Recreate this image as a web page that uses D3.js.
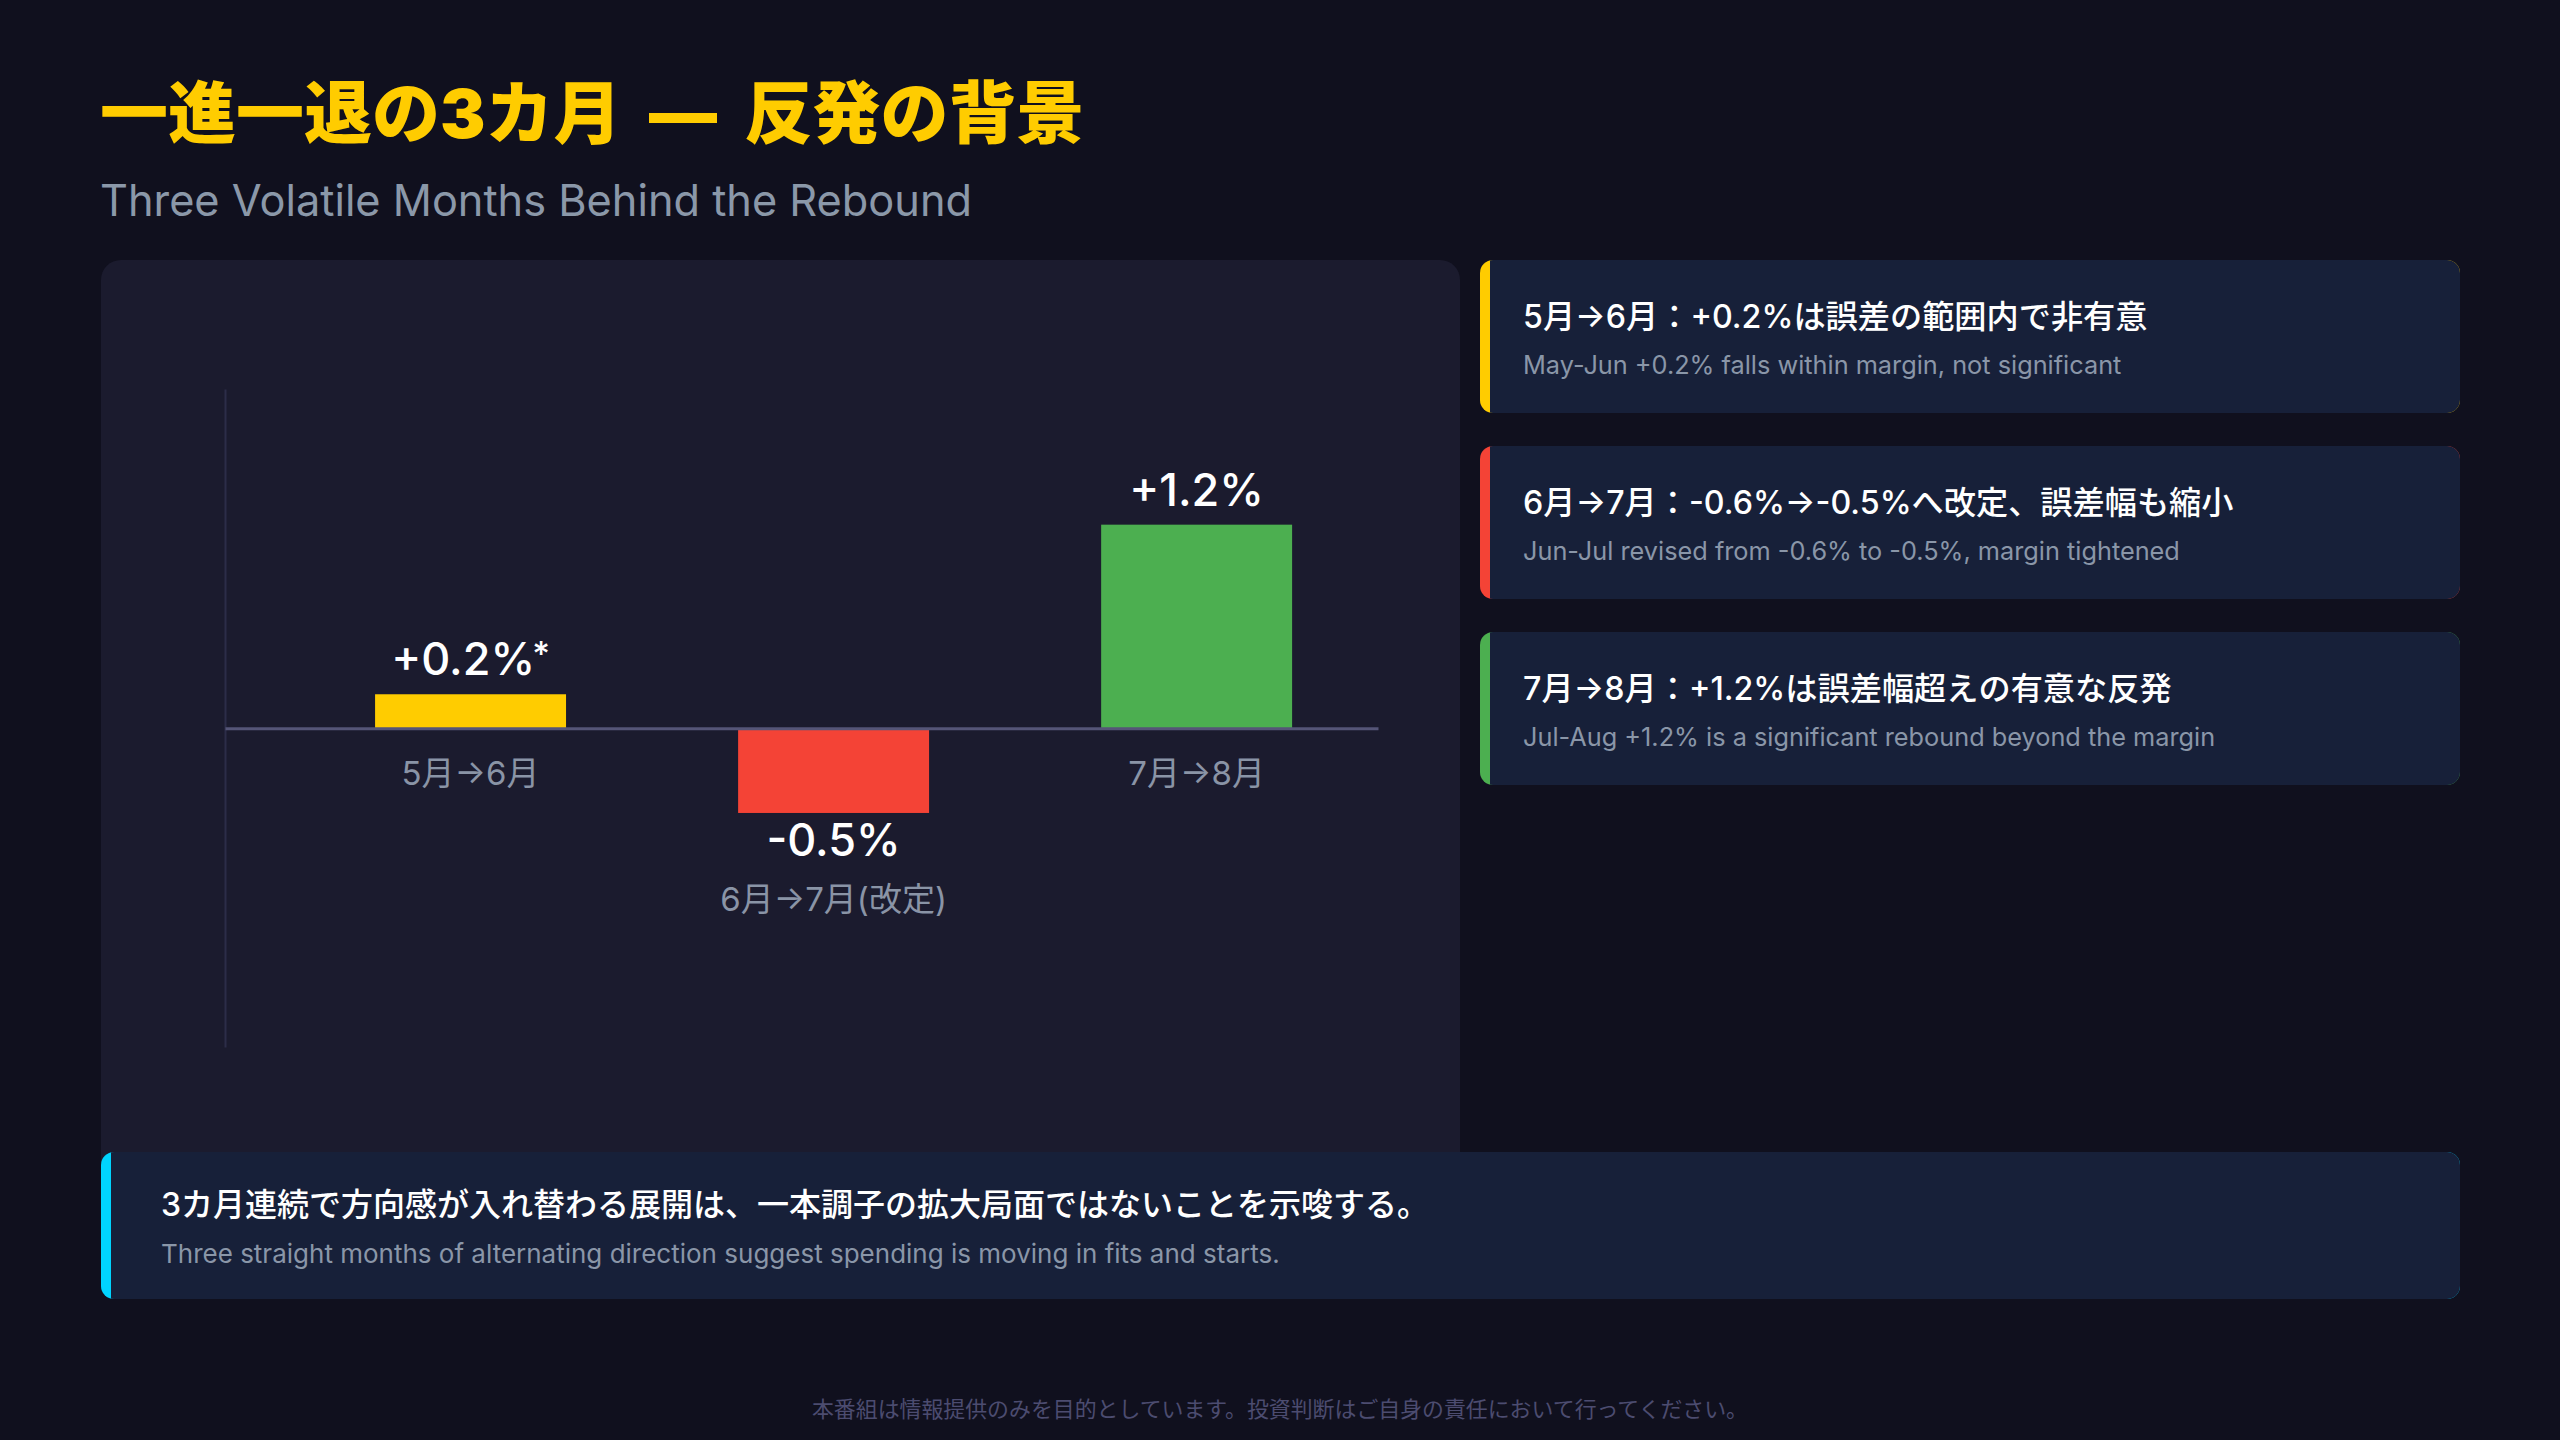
<!DOCTYPE html>
<html>
<head>
<meta charset="utf-8">
<script src="https://cdn.jsdelivr.net/npm/d3@7"></script>
<style>
  html, body { margin: 0; padding: 0; background: #10101e; }
  svg { display: block; }
  text { font-family: Inter, "Noto Sans CJK JP", sans-serif; }
</style>
</head>
<body>
<div class="chart"></div>
<script>
// chart values
const categories = ["5月→6月", "6月→7月(改定)", "7月→8月"]
const values = [0.2, -0.5, 1.2]
const valueLabels = ["+0.2%", "-0.5%", "+1.2%"]
const valueMarks = ["*", "", ""]

// side notes
const noteTitles = [
  "5月→6月：+0.2%は誤差の範囲内で非有意",
  "6月→7月：-0.6%→-0.5%へ改定、誤差幅も縮小",
  "7月→8月：+1.2%は誤差幅超えの有意な反発"
]
const noteSubs = [
  "May-Jun +0.2% falls within margin, not significant",
  "Jun-Jul revised from -0.6% to -0.5%, margin tightened",
  "Jul-Aug +1.2% is a significant rebound beyond the margin"
]

const title = "一進一退の3カ月 — 反発の背景"
const subtitle = "Three Volatile Months Behind the Rebound"
const takeaway = "3カ月連続で方向感が入れ替わる展開は、一本調子の拡大局面ではないことを示唆する。"
const takeawaySub = "Three straight months of alternating direction suggest spending is moving in fits and starts."
const footer = "本番組は情報提供のみを目的としています。投資判断はご自身の責任において行ってください。"

const W = 2560, H = 1440

const svg = d3.select(".chart")
    .append("svg")
    .attr("width", W)
    .attr("height", H)

svg.append("rect").attr("width", W).attr("height", H).attr("fill", "#10101e")

const colorScale = d3.scaleOrdinal()
    .domain(categories)
    .range(["#ffcc00", "#f44336", "#4caf50"])

// headings
svg.append("text")
    .attr("x", 100).attr("y", 138)
    .attr("font-size", 68).attr("font-weight", 900)
    .attr("word-spacing", 14)
    .attr("fill", "#ffcc00")
    .text(title)

svg.append("text")
    .attr("x", 100).attr("y", 216)
    .attr("font-size", 43.3)
    .attr("fill", "#8b98a9")
    .text(subtitle)

// chart panel
svg.append("rect")
    .attr("x", 101).attr("y", 260)
    .attr("width", 1359).attr("height", 940)
    .attr("rx", 20)
    .attr("fill", "#1b1b2e")

let yScale = d3.scaleLinear()
    .domain([-1.88, 2.0])
    .range([1047, 389])
let xScale = d3.scaleBand()
    .domain(categories)
    .range([225, 1378])
    .paddingInner(0.474)
    .paddingOuter(0.325)
    .align(0.636)

// y axis: line only
let yAxisGroup = svg.append("g")
    .attr("transform", "translate(225,0)")
    .call(d3.axisLeft(yScale).ticks(0).tickSizeOuter(0))
yAxisGroup.select(".domain").attr("stroke", "#2c2d48").attr("stroke-width", 2)

let group = svg.append("g")

group.selectAll(".bar")
    .data(values)
    .enter()
    .append("rect")
    .attr("class", "bar")
    .attr("x", (d, i) => xScale(categories[i]))
    .attr("width", xScale.bandwidth())
    .attr("y", d => yScale(Math.max(0, d)))
    .attr("height", d => Math.abs(yScale(d) - yScale(0)))
    .attr("fill", (d, i) => colorScale(categories[i]))

// zero line
let xAxisGroup = svg.append("g")
    .attr("transform", `translate(0,${yScale(0)})`)
    .call(d3.axisBottom(xScale).tickSize(0).tickFormat("").tickSizeOuter(0))
xAxisGroup.select(".domain").attr("stroke", "#555577").attr("stroke-width", 3)

// value labels
let vals = group.selectAll(".val")
    .data(values)
    .enter()
    .append("text")
    .attr("class", "val")
    .attr("x", (d, i) => xScale(categories[i]) + xScale.bandwidth() / 2)
    .attr("y", d => d >= 0 ? yScale(d) - 19 : yScale(d) + 43)
    .attr("text-anchor", "middle")
    .attr("font-size", 45)
    .attr("font-weight", 500)
    .attr("fill", "#ffffff")
vals.append("tspan").text((d, i) => valueLabels[i])
vals.append("tspan")
    .attr("font-size", 34)
    .attr("dx", -3)
    .attr("dy", -9)
    .text((d, i) => valueMarks[i])

// category labels
group.selectAll(".cat")
    .data(values)
    .enter()
    .append("text")
    .attr("class", "cat")
    .attr("x", (d, i) => xScale(categories[i]) + xScale.bandwidth() / 2)
    .attr("y", d => d >= 0 ? yScale(0) + 57 : yScale(d) + 98)
    .attr("text-anchor", "middle")
    .attr("font-size", 33)
    .attr("fill", "#8a94a6")
    .text((d, i) => categories[i])

// side cards
const defs = svg.append("defs")
function card(x, y, w, h, accent, id) {
    defs.append("clipPath").attr("id", id)
        .append("rect").attr("x", x).attr("y", y).attr("width", w).attr("height", h).attr("rx", 13)
    const g = svg.append("g").attr("clip-path", `url(#${id})`)
    g.append("rect").attr("x", x).attr("y", y).attr("width", w).attr("height", h).attr("fill", accent)
    g.append("rect").attr("x", x + 10).attr("y", y).attr("width", w - 10).attr("height", h).attr("fill", "#172039")
    return g
}

noteTitles.forEach((t, i) => {
    const top = 260 + i * 186
    card(1480, top, 980, 153, colorScale(categories[i]), "card" + i)
    svg.append("text")
        .attr("x", 1523).attr("y", top + 68)
        .attr("font-size", 32.2).attr("font-weight", 500)
        .attr("fill", "#ffffff")
        .text(t)
    svg.append("text")
        .attr("x", 1523).attr("y", top + 114)
        .attr("font-size", 25.3)
        .attr("fill", "#8a96a8")
        .text(noteSubs[i])
})

// takeaway box
card(101, 1152, 2359, 147, "#00d4ff", "takeaway")
svg.append("text")
    .attr("x", 161).attr("y", 1216)
    .attr("font-size", 32).attr("font-weight", 500)
    .attr("fill", "#ffffff")
    .text(takeaway)
svg.append("text")
    .attr("x", 161).attr("y", 1263)
    .attr("font-size", 26)
    .attr("fill", "#8a96a8")
    .text(takeawaySub)

svg.append("text")
    .attr("x", 1280).attr("y", 1417)
    .attr("text-anchor", "middle")
    .attr("font-size", 21.9)
    .attr("fill", "#4c4c70")
    .text(footer)
</script>
</body>
</html>
